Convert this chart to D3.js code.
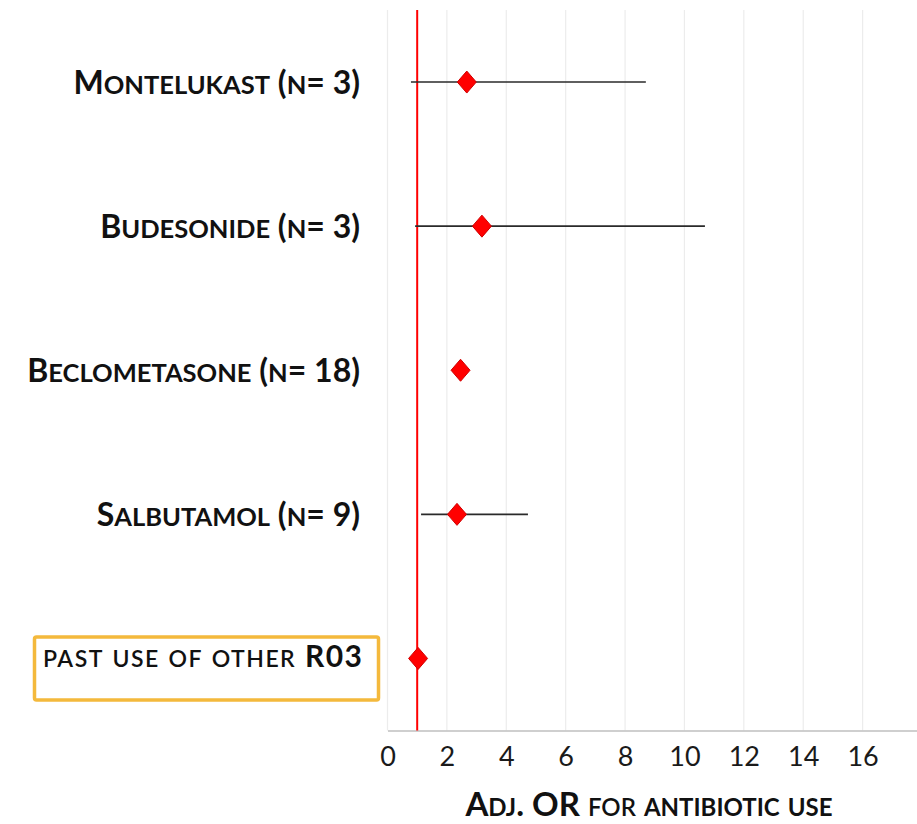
<!DOCTYPE html>
<html>
<head>
<meta charset="utf-8">
<script src="https://cdn.jsdelivr.net/npm/d3@7"></script>
<style>
  html, body { margin: 0; padding: 0; background: #ffffff; }
  svg { display: block; }
  text { font-family: Lato, "Open Sans", "Liberation Sans", sans-serif; }
</style>
</head>
<body>
<svg id="chart" width="917" height="824"></svg>
<script>
// Drug classes (top to bottom) with adjusted odds ratios and 95% CIs
const categories = [
  "Montelukast (n= 3)",
  "Budesonide (n= 3)",
  "Beclometasone (n= 18)",
  "Salbutamol (n= 9)",
  "past use of other R03"
];
const oddsRatios = [2.67, 3.18, 2.46, 2.34, 1.03];
const ciLower    = [0.79, 0.93, null, 1.13, null];
const ciUpper    = [8.70, 10.69, null, 4.73, null];
const xTicks     = [0, 2, 4, 6, 8, 10, 12, 14, 16];
const referenceOR = 1;

const svg = d3.select("#chart");
const plot = { left: 387.5, right: 922, top: 10, bottom: 730.5 };

const x = d3.scaleLinear().domain([0, 18]).range([plot.left, plot.right]);
const y = d3.scaleBand().domain(categories).range([plot.top, plot.bottom]).padding(0);
const yc = d => y(d) + y.bandwidth() / 2;

// vertical gridlines
svg.append("g").selectAll("line").data(xTicks).join("line")
  .attr("x1", d => x(d)).attr("x2", d => x(d))
  .attr("y1", plot.top).attr("y2", plot.bottom)
  .attr("stroke", "#ececec").attr("stroke-width", 1.2);

// x axis
const xAxis = d3.axisBottom(x).tickValues(xTicks).tickSize(0).tickPadding(10).tickFormat(d3.format("d"));
const gx = svg.append("g").attr("transform", `translate(0,${plot.bottom})`).call(xAxis);
gx.select(".domain").attr("stroke", "#bfbfbf").attr("stroke-width", 1.5);
gx.selectAll(".tick text")
  .attr("font-size", 27).attr("fill", "#1a1a1a").attr("dy", "0.93em")
  .style("font-family", "Lato, 'Open Sans', sans-serif").style("font-weight", 400);

// reference line at OR = 1
svg.append("line")
  .attr("x1", x(referenceOR)).attr("x2", x(referenceOR))
  .attr("y1", plot.top).attr("y2", plot.bottom)
  .attr("stroke", "#ff0000").attr("stroke-width", 2);

// confidence intervals
const rows = categories.map((c, i) => ({ c, or: oddsRatios[i], lo: ciLower[i], hi: ciUpper[i] }));
svg.append("g").selectAll("line").data(rows.filter(r => r.lo != null)).join("line")
  .attr("x1", d => x(d.lo)).attr("x2", d => x(d.hi))
  .attr("y1", d => yc(d.c)).attr("y2", d => yc(d.c))
  .attr("stroke", "#2a2a2a").attr("stroke-width", 1.6);

// point estimates (diamonds)
svg.append("g").selectAll("path").data(rows).join("path")
  .attr("transform", d => `translate(${x(d.or)},${yc(d.c)})`)
  .attr("d", "M0,-11 L9.5,0 L0,11 L-9.5,0 Z")
  .attr("fill", "#ff0000").attr("stroke", "#d00000").attr("stroke-width", 1);

// small-caps text: lowercase letters drawn as smaller capitals
function smallCaps(sel, str, big, small, weights) {
  const parts = [];
  for (const ch of str) {
    const isLower = ch !== ch.toUpperCase();
    const last = parts[parts.length - 1];
    if (last && last.low === isLower) last.t += ch;
    else parts.push({ t: ch, low: isLower });
  }
  parts.forEach(p => {
    sel.append("tspan")
      .attr("font-size", p.low ? small : big)
      .attr("font-weight", weights ? weights(p) : 700)
      .text(p.low ? p.t.toUpperCase() : p.t);
  });
}

// category labels
categories.forEach((c, i) => {
  const boxed = i === categories.length - 1;
  const t = svg.append("text")
    .attr("x", boxed ? 43 : 360)
    .attr("y", yc(c) + (boxed ? 9 : 12))
    .attr("text-anchor", boxed ? "start" : "end")
    .attr("fill", "#111");
  if (boxed) {
    smallCaps(t, c, 30, 23, p => p.low ? 600 : 700);
    t.attr("textLength", 319).attr("lengthAdjust", "spacing");
  } else {
    smallCaps(t, c, 32, 25.5);
  }
});

// highlight box around the last label
const lastY = yc(categories[categories.length - 1]);
svg.append("rect")
  .attr("x", 34.5).attr("y", lastY - 21.5)
  .attr("width", 344).attr("height", 63)
  .attr("rx", 2)
  .attr("fill", "none").attr("stroke", "#f4b93c").attr("stroke-width", 3.5);

// x axis title
const title = svg.append("text")
  .attr("x", (465 + 833) / 2).attr("y", 816)
  .attr("text-anchor", "middle").attr("fill", "#111");
smallCaps(title, "Adj. OR for antibiotic use", 33, 24, p => /for/i.test(p.t) ? 600 : 700);
</script>
</body>
</html>
